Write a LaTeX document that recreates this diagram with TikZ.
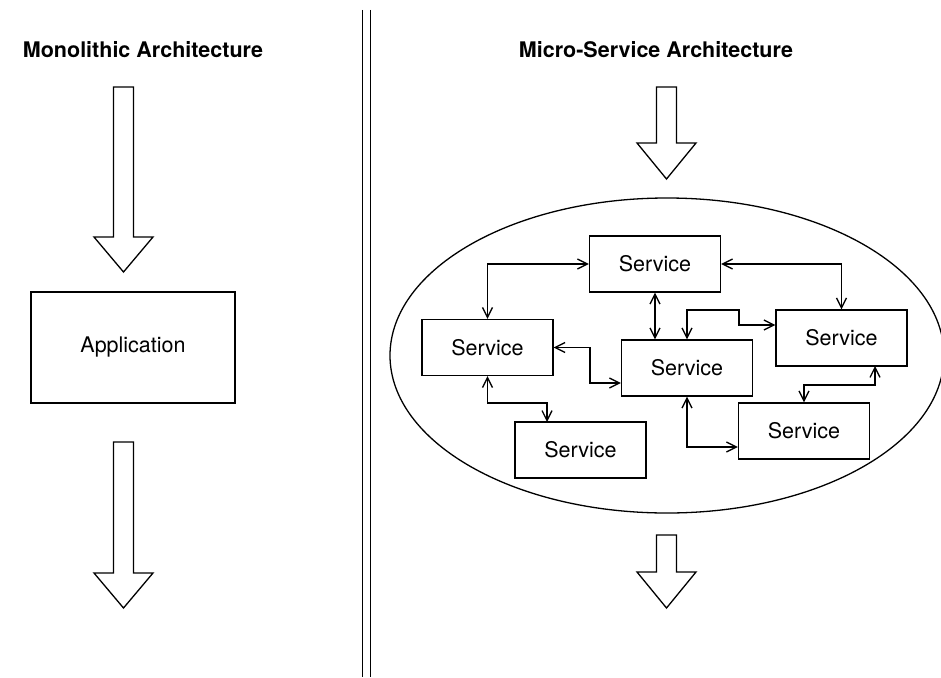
\documentclass[tikz,border=0pt]{standalone}
\usepackage{fontspec}
\setmainfont{TeX Gyre Heros}
\usetikzlibrary{arrows.meta}

% hollow block arrow pointing down: centre x, shaft top, head base, tip
\newcommand{\downblock}[4]{%
  \draw[block] (#1-10,#2) -- (#1+10,#2) -- (#1+10,#3) -- (#1+29.5,#3)
    -- (#1,#4) -- (#1-29.5,#3) -- (#1-10,#3) -- cycle;}

\begin{document}
\begin{tikzpicture}[x=1pt,y=-1pt,line width=1.3pt,
  title/.style={font=\bfseries\fontsize{21.5}{26}\selectfont, anchor=base},
  box/.style={draw, inner sep=0pt, font=\fontsize{21.5}{26}\selectfont},
  svc/.style={box, minimum width=131pt, minimum height=56pt},
  link/.style={{Straight Barb[length=10pt,width=10pt]}-{Straight Barb[length=10pt,width=10pt]}},
  block/.style={draw, fill=white, line join=miter},
  divider/.style={line width=1pt}]

\useasboundingbox (0,0) rectangle (941,677);

% headings
\node[title] (tmono) at (143,57.5) {Monolithic Architecture};
\node[title] (tmicro) at (656,57.5) {Micro-Service Architecture};

% double divider
\draw[divider] (362.7,10) -- (362.7,677);
\draw[divider] (370,10) -- (370,677);

% monolithic side
\downblock{123.5}{87}{237}{272}
\node[box, minimum width=204pt, minimum height=111pt] (app) at (133,347.5) {Application};
\downblock{123.5}{442}{573}{608}

% micro-service side
\downblock{666.5}{87}{143}{179}
\draw (667,355.5) ellipse [x radius=277pt, y radius=157.5pt];
\downblock{666.5}{535}{572}{608}

\node[svc] (s1) at (655,264) {Service};
\node[svc] (s2) at (487.5,347.5) {Service};
\node[svc] (s3) at (687,368) {Service};
\node[svc] (s4) at (841.5,338) {Service};
\node[svc] (s5) at (804,431) {Service};
\node[svc] (s6) at (580.5,450) {Service};

\draw[link] (s1.west) -| (s2.north);
\draw[link] (s1.south) -- (s1.south |- s3.north);
\draw[link] (s1.east) -| (s4.north);
\draw[link] (s2.east) -- (590,347.5) -- (590,383) -- (s3.west |- 0,383);
\draw[link] (s3.north) -- (687,310) -- (739,310) -- (739,325) -- (s4.west |- 0,325);
\draw[link] (s2.south) -- (487.5,403) -- (547,403) -- (547,422);
\draw[link] (s3.south) |- (s5.west |- 0,447);
\draw[link] (875,366) -- (875,385) -- (804,385) -- (s5.north);

\end{tikzpicture}
\end{document}
